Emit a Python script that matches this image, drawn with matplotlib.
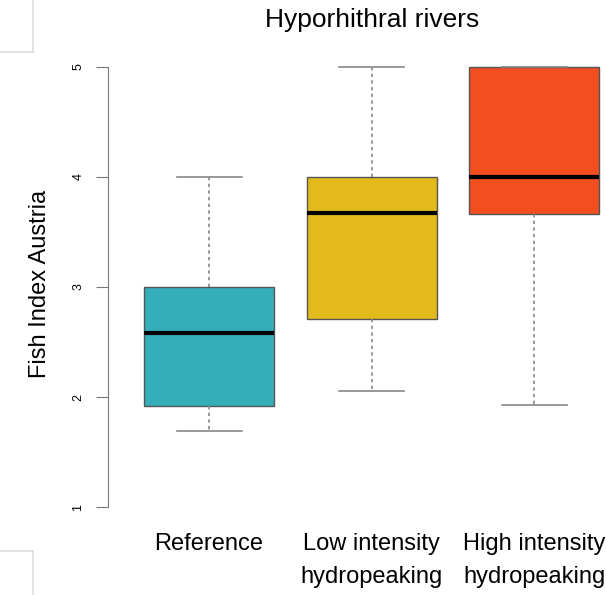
import matplotlib
matplotlib.use("Agg")
import matplotlib.pyplot as plt
from matplotlib.lines import Line2D

categories = ["Reference", "Low intensity\nhydropeaking", "High intensity\nhydropeaking"]
whisker_low = [1.69, 2.06, 1.93]
q1 = [1.92, 2.71, 3.66]
median = [2.58, 3.67, 4.00]
q3 = [3.00, 4.00, 5.00]
whisker_high = [4.00, 5.00, 5.00]
colors = ["#35AEB9", "#E2BA1C", "#F24E1F"]
yticks = [1, 2, 3, 4, 5]

plt.rcParams['font.family'] = ['Liberation Sans', 'DejaVu Sans']
FS = 17

fig = plt.figure(figsize=(6.06, 5.95), dpi=100)
ax = fig.add_axes([108/606, 70/595, 1 - 108/606, 476/595])

stats = []
for i, c in enumerate(categories):
    stats.append(dict(label=c, whislo=whisker_low[i], q1=q1[i], med=median[i],
                      q3=q3[i], whishi=whisker_high[i], fliers=[]))

bp = ax.bxp(stats, positions=[1, 2, 3], widths=0.8, patch_artist=True,
            showfliers=False,
            boxprops=dict(edgecolor="#555555", linewidth=1.0),
            medianprops=dict(color="black", linewidth=3, solid_capstyle="butt"),
            whiskerprops=dict(color="#888888", linewidth=1.2, linestyle=(0, (2, 2))),
            capprops=dict(color="#888888", linewidth=1.2),
            capwidths=0.4)
for patch, col in zip(bp['boxes'], colors):
    patch.set_facecolor(col)

ax.set_xlim(1 - 101/162.5, 3 + 72/162.5)
ax.set_ylim(0.84, 5.16)
ax.spines['top'].set_visible(False)
ax.spines['right'].set_visible(False)
ax.spines['bottom'].set_visible(False)
ax.spines['left'].set_bounds(1, 5)
ax.spines['left'].set_color("#777777")
ax.set_yticks(yticks)
ax.set_yticklabels([str(t) for t in yticks], rotation=90, va='center', fontsize=9)
ax.tick_params(axis='y', length=9, color="#777777", pad=8)
ax.tick_params(axis='x', length=0, pad=6, labelsize=FS)
ax.set_xticks([1, 2, 3])
ax.set_xticklabels(categories, linespacing=1.6)
ax.set_ylabel("Fish Index Austria", fontsize=FS)
ax.yaxis.set_label_coords(-(108 - 51) / 498, (525 - 284) / 476)

fig.text(372/606, 1 - 20/595, "Hyporhithral rivers", ha='center', va='center', fontsize=19)

# slide frame fragments
fig.add_artist(Line2D([0, 33/606], [1 - 52/595, 1 - 52/595], color="#dddddd", lw=1.2))
fig.add_artist(Line2D([33/606, 33/606], [1, 1 - 52/595], color="#dddddd", lw=1.2))
fig.add_artist(Line2D([0, 33/606], [1 - 551/595, 1 - 551/595], color="#dddddd", lw=1.2))
fig.add_artist(Line2D([33/606, 33/606], [0, 1 - 551/595], color="#dddddd", lw=1.2))

fig.savefig("out.png", dpi=100)
